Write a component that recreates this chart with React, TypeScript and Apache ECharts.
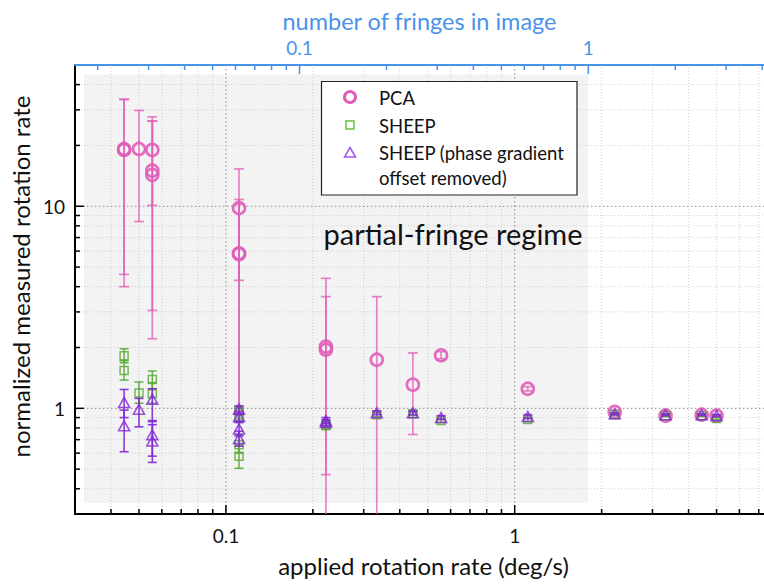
import React, { useEffect, useRef } from "react";
import * as echarts from "echarts";

// ---------- axis ranges ----------
const X_RANGE = [0.03, 7.3];
const Y_RANGE = [0.3, 50];
const FRINGES_PER_RATE = 0.556;
const REGIME_X = [0.0322, 1 / 0.556];
const REGIME_Y = [0.34, 44.9];

// ---------- ticks / grid values ----------
const xMajor = [0.1, 1];
const xMinor = [0.04, 0.05, 0.06, 0.07, 0.08, 0.09, 0.2, 0.3, 0.4, 0.5, 0.6, 0.7, 0.8, 0.9, 2, 3, 4, 5, 6, 7];
const yMajor = [1, 10];
const yMinor = [0.4, 0.5, 0.6, 0.7, 0.8, 0.9, 2, 3, 4, 5, 6, 7, 8, 9, 20, 30, 40];
const topMajor = [0.1, 1];
const topMinor = [0.02, 0.03, 0.04, 0.05, 0.06, 0.07, 0.08, 0.09, 0.2, 0.3, 0.4, 0.5, 0.6, 0.7, 0.8, 0.9, 2, 3, 4];

// ---------- data ----------
const pcaX = [0.0444, 0.0444, 0.05, 0.0556, 0.0556, 0.0556, 0.111, 0.111, 0.111, 0.222, 0.222, 0.333, 0.444, 0.556, 1.11, 2.22, 3.33, 4.44, 5.0];
const pcaY = [19.0, 19.2, 19.2, 19.0, 15.0, 14.3, 9.8, 5.85, 5.8, 2.02, 1.95, 1.74, 1.31, 1.83, 1.25, 0.96, 0.92, 0.93, 0.92];
const pcaLow = [4.6, 4.0, 8.4, 10.1, 3.05, 2.21, 1.0, 4.3, 1.0, 0.47, 0.2, 0.2, 0.742, 1.76, 1.22, 0.94, 0.91, 0.92, 0.91];
const pcaHigh = [33.8, 33.8, 29.8, 27.7, 26.4, 26.4, 15.3, 10.8, 10.2, 4.4, 3.57, 3.57, 1.88, 1.91, 1.28, 0.98, 0.93, 0.94, 0.93];

const sheepX = [0.0444, 0.0444, 0.05, 0.0556, 0.0556, 0.111, 0.111, 0.111, 0.111, 0.222, 0.222, 0.333, 0.444, 0.556, 1.11, 2.22, 3.33, 4.44, 5.0];
const sheepY = [1.82, 1.54, 1.19, 1.39, 1.18, 0.97, 0.93, 0.66, 0.58, 0.83, 0.82, 0.93, 0.94, 0.87, 0.88, 0.93, 0.92, 0.92, 0.89];
const sheepLow = [1.68, 1.38, 1.06, 1.25, 1.06, 0.92, 0.87, 0.6, 0.505, 0.81, 0.8, 0.91, 0.92, 0.85, 0.86, 0.92, 0.91, 0.91, 0.88];
const sheepHigh = [1.97, 1.72, 1.35, 1.53, 1.34, 1.02, 1.0, 0.74, 0.66, 0.86, 0.85, 0.95, 0.96, 0.89, 0.9, 0.94, 0.93, 0.93, 0.9];

const triX = [0.0444, 0.0444, 0.05, 0.0556, 0.0556, 0.0556, 0.111, 0.111, 0.111, 0.111, 0.222, 0.222, 0.333, 0.444, 0.556, 1.11, 2.22, 3.33, 4.44, 5.0];
const triY = [1.07, 0.82, 0.99, 1.11, 0.74, 0.69, 0.99, 0.91, 0.79, 0.71, 0.87, 0.85, 0.95, 0.95, 0.9, 0.91, 0.94, 0.93, 0.93, 0.92];
const triLow = [0.9, 0.61, 0.81, 0.87, 0.58, 0.54, 0.94, 0.86, 0.73, 0.65, 0.84, 0.82, 0.93, 0.93, 0.88, 0.89, 0.93, 0.92, 0.92, 0.91];
const triHigh = [1.24, 0.98, 1.12, 1.25, 0.83, 0.86, 1.03, 0.96, 0.85, 0.77, 0.9, 0.88, 0.97, 0.97, 0.92, 0.93, 0.95, 0.94, 0.94, 0.93];

const PCA_COLOR = "#e05cb8";
const SHEEP_COLOR = "#58a832";
const TRI_COLOR = "#8228d6";
const TRI_LEGEND = "#a455e8";
const TOP_BLUE = "#4b93ea";
const FONT = "Lato";

const minorGrid = { stroke: "#cfcfcf", lineWidth: 1, lineDash: [1, 2] };
const majorGrid = { stroke: "#8c8c8c", lineWidth: 1, lineDash: [1.5, 2.5] };

function seg(x1: number, y1: number, x2: number, y2: number, style: any) {
  return { type: "line", shape: { x1, y1, x2, y2 }, style };
}

const frameRender = (_params: any, api: any) => {
  const children: any[] = [];
  const bl = api.coord([X_RANGE[0], Y_RANGE[0]]);
  const tr = api.coord([X_RANGE[1], Y_RANGE[1]]);
  const s0 = api.coord([REGIME_X[0], REGIME_Y[0]]);
  const s1 = api.coord([REGIME_X[1], REGIME_Y[1]]);
  children.push({
    type: "rect",
    shape: { x: s0[0], y: s1[1], width: s1[0] - s0[0], height: s0[1] - s1[1] },
    style: { fill: "#f3f3f3" },
  });
  const tick = { stroke: "#000", lineWidth: 1.5 };
  xMinor.forEach((v) => {
    const px = api.coord([v, Y_RANGE[0]])[0];
    children.push(seg(px, tr[1], px, bl[1], minorGrid));
    children.push(seg(px, bl[1], px, bl[1] - 5, tick));
  });
  xMajor.forEach((v) => {
    const px = api.coord([v, Y_RANGE[0]])[0];
    children.push(seg(px, tr[1], px, bl[1], majorGrid));
    children.push(seg(px, bl[1], px, bl[1] - 9, tick));
  });
  yMinor.forEach((v) => {
    const py = api.coord([X_RANGE[0], v])[1];
    children.push(seg(bl[0], py, tr[0], py, minorGrid));
    children.push(seg(bl[0], py, bl[0] + 5, py, tick));
  });
  yMajor.forEach((v) => {
    const py = api.coord([X_RANGE[0], v])[1];
    children.push(seg(bl[0], py, tr[0], py, majorGrid));
    children.push(seg(bl[0], py, bl[0] + 9, py, tick));
  });
  return { type: "group", children };
};

const topTickRender = (_params: any, api: any) => {
  const children: any[] = [];
  const tick = { stroke: TOP_BLUE, lineWidth: 1.5 };
  topMinor.forEach((v) => {
    const p = api.coord([v, Y_RANGE[1]]);
    children.push(seg(p[0], p[1], p[0], p[1] + 5, tick));
  });
  topMajor.forEach((v) => {
    const p = api.coord([v, Y_RANGE[1]]);
    children.push(seg(p[0], p[1], p[0], p[1] + 9, tick));
  });
  return { type: "group", children };
};

function errorRender(color: string, cap: number, width: number, opacity: number) {
  return (_params: any, api: any) => {
    const x = api.value(0);
    const lo = api.value(2);
    const hi = api.value(3);
    const pLo = api.coord([x, lo]);
    const pHi = api.coord([x, hi]);
    const h = cap / 2;
    const st = { stroke: color, lineWidth: width, opacity };
    return {
      type: "group",
      children: [
        seg(pLo[0], pLo[1], pHi[0], pHi[1], st),
        seg(pLo[0] - h, pLo[1], pLo[0] + h, pLo[1], st),
        seg(pHi[0] - h, pHi[1], pHi[0] + h, pHi[1], st),
      ],
    };
  };
}

const labelFmt = (v: number) => String(Number(v.toPrecision(3)));

export default function App() {
  const ref = useRef<HTMLDivElement>(null);
  useEffect(() => {
    if (!ref.current) return;
    const chart = echarts.init(ref.current, null, { renderer: "svg" });
    const errData = (xs: number[], ys: number[], lo: number[], hi: number[]) =>
      xs.map((x, i) => [x, ys[i], lo[i], hi[i]]);
    const ptData = (xs: number[], ys: number[]) => xs.map((x, i) => [x, ys[i]]);
    const textBase = { fontFamily: FONT, fill: "#111" };
    chart.setOption({
      animation: false,
      backgroundColor: "#ffffff",
      textStyle: { fontFamily: FONT },
      grid: { left: 72, top: 65, width: 692, height: 449 },
      xAxis: [
        {
          type: "log",
          min: X_RANGE[0],
          max: X_RANGE[1],
          position: "bottom",
          name: "applied rotation rate (deg/s)",
          nameLocation: "middle",
          nameGap: 39,
          nameTextStyle: { fontSize: 24, color: "#111", padding: [0, 0, 0, 8] },
          axisLine: { show: true, lineStyle: { color: "#000", width: 2 } },
          axisTick: { show: false },
          splitLine: { show: false },
          axisLabel: { fontSize: 19, color: "#111", margin: 12, showMinLabel: false, showMaxLabel: false, formatter: labelFmt },
        },
        {
          type: "log",
          min: X_RANGE[0] * FRINGES_PER_RATE,
          max: X_RANGE[1] * FRINGES_PER_RATE,
          position: "top",
          name: "number of fringes in image",
          nameLocation: "middle",
          nameGap: 24,
          nameTextStyle: { fontSize: 23.5, color: TOP_BLUE },
          axisLine: { show: true, lineStyle: { color: TOP_BLUE, width: 2 } },
          axisTick: { show: false },
          splitLine: { show: false },
          axisLabel: { fontSize: 19, color: TOP_BLUE, margin: 8, showMinLabel: false, showMaxLabel: false, formatter: labelFmt },
        },
      ],
      yAxis: {
        type: "log",
        min: Y_RANGE[0],
        max: Y_RANGE[1],
        name: "normalized measured rotation rate",
        nameLocation: "middle",
        nameGap: 30,
        nameTextStyle: { fontSize: 24, color: "#111", padding: [0, 0, 0, 26] },
        axisLine: { show: true, lineStyle: { color: "#000", width: 2 } },
        axisTick: { show: false },
        splitLine: { show: false },
        axisLabel: { fontSize: 19, color: "#111", margin: 10, showMinLabel: false, showMaxLabel: false, formatter: labelFmt },
      },
      series: [
        { type: "custom", name: "frame", xAxisIndex: 0, yAxisIndex: 0, data: [[1, 1]], renderItem: frameRender, z: 0, silent: true },
        { type: "custom", name: "topTicks", xAxisIndex: 1, yAxisIndex: 0, data: [[1, 1]], renderItem: topTickRender, z: 1, silent: true },
        {
          type: "custom", name: "PCA err", clip: true, z: 3,
          data: errData(pcaX, pcaY, pcaLow, pcaHigh), encode: { x: 0, y: 1 },
          renderItem: errorRender(PCA_COLOR, 10, 1.7, 0.75),
        },
        {
          type: "scatter", name: "PCA", z: 4,
          data: ptData(pcaX, pcaY), symbol: "circle", symbolSize: 12,
          itemStyle: { color: "rgba(255,255,255,0)", borderColor: PCA_COLOR, borderWidth: 2.6, opacity: 0.9 },
        },
        {
          type: "custom", name: "SHEEP err", clip: true, z: 5,
          data: errData(sheepX, sheepY, sheepLow, sheepHigh), encode: { x: 0, y: 1 },
          renderItem: errorRender(SHEEP_COLOR, 9, 1.5, 0.9),
        },
        {
          type: "scatter", name: "SHEEP", z: 6,
          data: ptData(sheepX, sheepY), symbol: "rect", symbolSize: 8,
          itemStyle: { color: "rgba(255,255,255,0)", borderColor: SHEEP_COLOR, borderWidth: 1.5 },
        },
        {
          type: "custom", name: "SHEEP (phase gradient offset removed) err", clip: true, z: 7,
          data: errData(triX, triY, triLow, triHigh), encode: { x: 0, y: 1 },
          renderItem: errorRender(TRI_COLOR, 9, 1.6, 0.9),
        },
        {
          type: "scatter", name: "SHEEP (phase gradient offset removed)", z: 8,
          data: ptData(triX, triY), symbol: "triangle", symbolSize: [11, 10],
          itemStyle: { color: "rgba(255,255,255,0)", borderColor: TRI_COLOR, borderWidth: 1.6 },
        },
      ],
      graphic: [
        {
          type: "text", x: 453, y: 233, z: 50,
          style: { ...textBase, text: "partial-fringe regime", fontSize: 29, textAlign: "center", textVerticalAlign: "middle" },
        },
        {
          type: "rect", z: 100,
          shape: { x: 321.5, y: 81.5, width: 255.5, height: 113.5 },
          style: { fill: "#ffffff", stroke: "#222", lineWidth: 1.2 },
        },
        { type: "circle", z: 101, shape: { cx: 350, cy: 97, r: 5.5 }, style: { fill: "none", stroke: PCA_COLOR, lineWidth: 3 } },
        { type: "rect", z: 101, shape: { x: 346, y: 121, width: 8, height: 8 }, style: { fill: "none", stroke: "#6cc043", lineWidth: 1.5 } },
        { type: "polygon", z: 101, shape: { points: [[350, 147.5], [355.5, 157], [344.5, 157]] }, style: { fill: "none", stroke: TRI_LEGEND, lineWidth: 1.5 } },
        { type: "text", z: 101, x: 379, y: 97.5, style: { ...textBase, text: "PCA", fontSize: 18.5, textVerticalAlign: "middle" } },
        { type: "text", z: 101, x: 379, y: 125.5, style: { ...textBase, text: "SHEEP", fontSize: 18.5, textVerticalAlign: "middle" } },
        { type: "text", z: 101, x: 379, y: 152.5, style: { ...textBase, text: "SHEEP (phase gradient", fontSize: 18.5, textVerticalAlign: "middle" } },
        { type: "text", z: 101, x: 379, y: 178, style: { ...textBase, text: "offset removed)", fontSize: 18.5, textVerticalAlign: "middle" } },
      ],
    });
    return () => chart.dispose();
  }, []);
  return <div ref={ref} style={{ position: "absolute", left: 0, top: 0, width: 764, height: 586 }} />;
}
